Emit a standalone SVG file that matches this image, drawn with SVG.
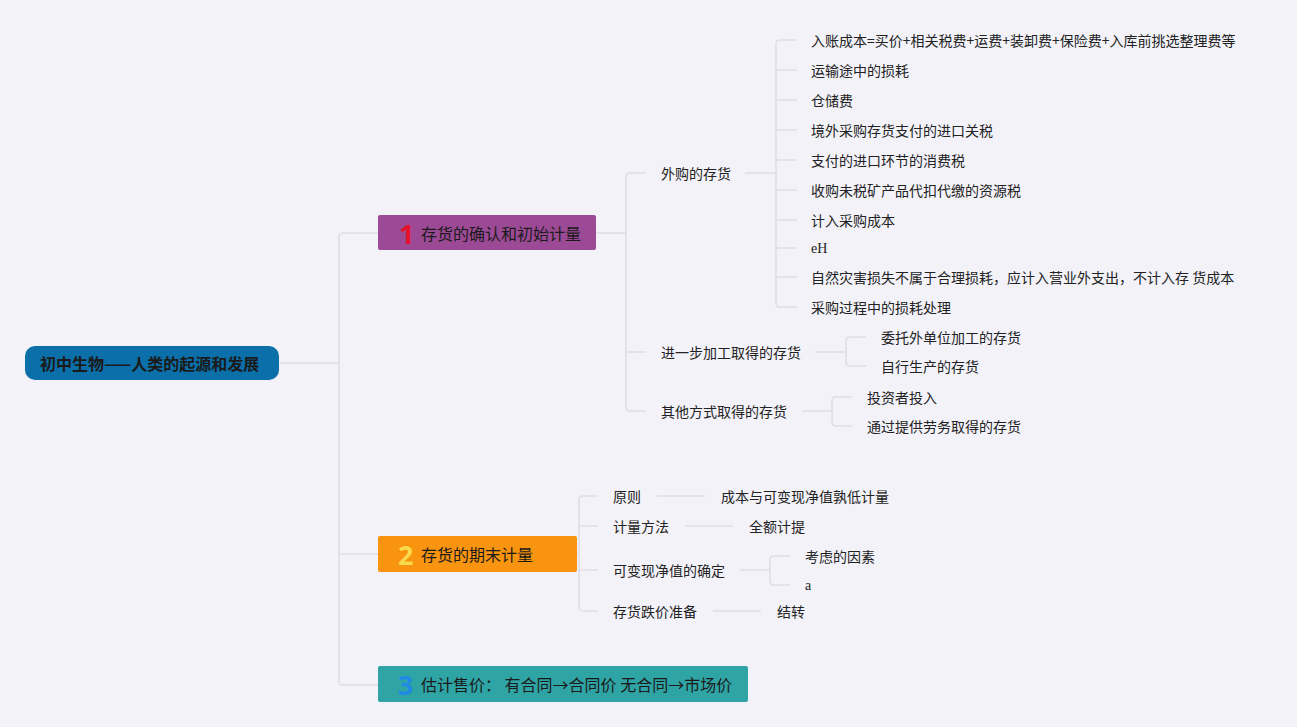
<svg xmlns="http://www.w3.org/2000/svg" width="1297" height="727" viewBox="0 0 1297 727">
<style>
.bg{fill:#f3f2f9}
.ln{fill:none;stroke:#dedee7;stroke-width:1.6}
.t{font-family:"Noto Sans CJK SC","Noto Sans",sans-serif;font-size:14px;fill:#222;dominant-baseline:central}
.tn{font-family:"Noto Sans CJK SC","Noto Sans",sans-serif;font-size:16px;fill:#1a1a1a;dominant-baseline:central}
.num{font-family:"Noto Sans","DejaVu Sans",sans-serif;font-size:27px;font-weight:bold;dominant-baseline:central}
.ser{font-family:"Liberation Serif",serif;font-size:14px;fill:#222;dominant-baseline:central}
</style>
<rect class="bg" x="0" y="0" width="1297" height="727"/>
<g id="connectors">
<path class="ln" d="M279 363 H339"/>
<path class="ln" d="M378 233 H343 Q339 233 339 237 V681 Q339 685 343 685 H378"/>
<path class="ln" d="M339 554 H378"/>
<path class="ln" d="M596 233 H626"/>
<path class="ln" d="M646 173 H630 Q626 173 626 177 V407 Q626 411 630 411 H646"/>
<path class="ln" d="M626 352 H646"/>
<path class="ln" d="M745 173 H776"/>
<path class="ln" d="M797 40 H780 Q776 40 776 44 V303 Q776 307 780 307 H797"/>
<path class="ln" d="M776 70 H797 M776 100 H797 M776 130 H797 M776 160 H797 M776 190 H797 M776 220 H797 M776 248 H797 M776 277 H797"/>
<path class="ln" d="M815 352 H846"/>
<path class="ln" d="M866 337 H850 Q846 337 846 341 V362 Q846 366 850 366 H866"/>
<path class="ln" d="M802 411 H832"/>
<path class="ln" d="M852 397 H836 Q832 397 832 401 V422 Q832 426 836 426 H852"/>
<path class="ln" d="M577 554 H579"/>
<path class="ln" d="M598 496 H583 Q579 496 579 500 V607 Q579 611 583 611 H598"/>
<path class="ln" d="M579 526 H598 M579 570 H598"/>
<path class="ln" d="M657 496 H705"/>
<path class="ln" d="M685 526 H733"/>
<path class="ln" d="M740 570 H770"/>
<path class="ln" d="M790 556 H774 Q770 556 770 560 V581 Q770 585 774 585 H790"/>
<path class="ln" d="M713 611 H761"/>
</g>
<g id="root">
<rect x="25" y="346" width="254" height="34" rx="10" fill="#0b6fa9"/>
<text class="tn" x="40" y="363" font-weight="bold" fill="#000">初中生物——人类的起源和发展</text>
</g>
<g id="n1">
<rect x="378" y="215" width="218" height="35" rx="2" fill="#9c4a95"/>
<text class="num" x="399" y="233" fill="#e5122a">1</text>
<text class="tn" x="421" y="233">存货的确认和初始计量</text>
</g>
<g id="n1a"><text class="t" x="661" y="173">外购的存货</text></g>
<g id="n1a1"><text class="t" x="811" y="40">入账成本=买价+相关税费+运费+装卸费+保险费+入库前挑选整理费等</text></g>
<g id="n1a2"><text class="t" x="811" y="70">运输途中的损耗</text></g>
<g id="n1a3"><text class="t" x="811" y="100">仓储费</text></g>
<g id="n1a4"><text class="t" x="811" y="130">境外采购存货支付的进口关税</text></g>
<g id="n1a5"><text class="t" x="811" y="160">支付的进口环节的消费税</text></g>
<g id="n1a6"><text class="t" x="811" y="190">收购未税矿产品代扣代缴的资源税</text></g>
<g id="n1a7"><text class="t" x="811" y="220">计入采购成本</text></g>
<g id="n1a8"><text class="ser" x="811" y="248">eH</text></g>
<g id="n1a9"><text class="t" x="811" y="277">自然灾害损失不属于合理损耗，应计入营业外支出，不计入存 货成本</text></g>
<g id="n1a10"><text class="t" x="811" y="307">采购过程中的损耗处理</text></g>
<g id="n1b"><text class="t" x="661" y="352">进一步加工取得的存货</text></g>
<g id="n1b1"><text class="t" x="881" y="337">委托外单位加工的存货</text></g>
<g id="n1b2"><text class="t" x="881" y="366">自行生产的存货</text></g>
<g id="n1c"><text class="t" x="661" y="411">其他方式取得的存货</text></g>
<g id="n1c1"><text class="t" x="867" y="397">投资者投入</text></g>
<g id="n1c2"><text class="t" x="867" y="426">通过提供劳务取得的存货</text></g>
<g id="n2">
<rect x="378" y="536" width="199" height="36" rx="2" fill="#f8940f"/>
<text class="num" x="398" y="554" fill="#fbd94c">2</text>
<text class="tn" x="421" y="554">存货的期末计量</text>
</g>
<g id="n2a"><text class="t" x="613" y="496">原则</text></g>
<g id="n2a1"><text class="t" x="721" y="496">成本与可变现净值孰低计量</text></g>
<g id="n2b"><text class="t" x="613" y="526">计量方法</text></g>
<g id="n2b1"><text class="t" x="749" y="526">全额计提</text></g>
<g id="n2c"><text class="t" x="613" y="570">可变现净值的确定</text></g>
<g id="n2c1"><text class="t" x="805" y="556">考虑的因素</text></g>
<g id="n2c2"><text class="ser" x="805" y="585">a</text></g>
<g id="n2d"><text class="t" x="613" y="611">存货跌价准备</text></g>
<g id="n2d1"><text class="t" x="777" y="611">结转</text></g>
<g id="n3">
<rect x="378" y="666" width="370" height="36" rx="2" fill="#2fa4a4"/>
<text class="num" x="398" y="684" fill="#1e8ae6">3</text>
<text class="tn" x="421" y="684">估计售价： 有合同→合同价 无合同→市场价</text>
</g>
</svg>
